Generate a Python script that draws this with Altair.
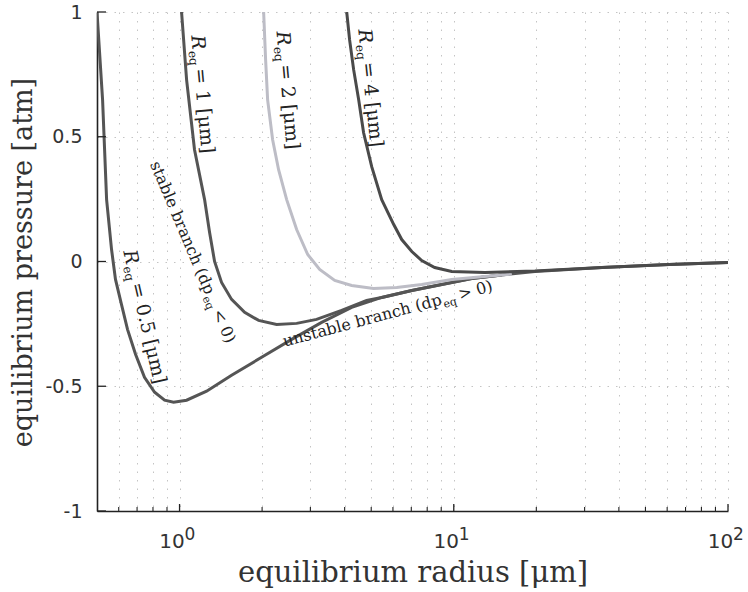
import altair as alt
import pandas as pd

# ---------------- data ----------------
# curve R_eq = 0.5 um (stable branch + unstable branch to large radius)
r_05 = [0.5, 0.524, 0.542, 0.565, 0.584, 0.614, 0.646, 0.691, 0.745, 0.811, 0.882,
        0.951, 1.061, 1.255, 1.548, 1.992, 2.564, 3.298, 4.243, 5.46, 7.03, 9.04,
        11.63, 14.97, 19.76, 34.7, 60.9, 100]
p_05 = [1.0, 0.648, 0.248, 0.048, -0.072, -0.172, -0.272, -0.372, -0.464, -0.524, -0.556,
        -0.564, -0.556, -0.52, -0.456, -0.384, -0.312, -0.244, -0.184, -0.144, -0.116, -0.092,
        -0.068, -0.054, -0.04, -0.024, -0.012, -0.004]

# curve R_eq = 1 um
r_1 = [1.017, 1.061, 1.134, 1.234, 1.287, 1.342, 1.423, 1.548, 1.727, 1.942, 2.26,
       2.673, 3.16, 3.90, 4.81, 5.46, 7.03, 9.04, 11.63, 14.97]
p_1 = [1.0, 0.728, 0.448, 0.248, 0.116, 0.0, -0.084, -0.152, -0.204, -0.236, -0.252,
       -0.248, -0.232, -0.196, -0.156, -0.144, -0.116, -0.092, -0.068, -0.054]

# curve R_eq = 2 um (light)
r_2 = [2.026, 2.06, 2.095, 2.185, 2.297, 2.458, 2.673, 2.933, 3.243, 3.68, 4.243,
       5.10, 6.19, 7.64, 9.83, 12.97, 16.28]
p_2 = [1.0, 0.808, 0.648, 0.488, 0.368, 0.248, 0.128, 0.028, -0.032, -0.076, -0.096,
       -0.108, -0.104, -0.092, -0.072, -0.06, -0.05]

# curve R_eq = 4 um
r_4 = [4.07, 4.17, 4.315, 4.50, 4.69, 5.02, 5.46, 6.04, 6.46, 7.03, 7.64, 8.52,
       9.83, 12.97, 19.76, 34.7, 60.9, 100]
p_4 = [1.0, 0.888, 0.768, 0.648, 0.516, 0.38, 0.248, 0.148, 0.088, 0.04, 0.004, -0.024,
       -0.04, -0.044, -0.038, -0.024, -0.012, -0.004]

# axis ticks / grid
x_major = [1, 10, 100]
x_exp = ["0", "1", "2"]
x_minor = [0.6, 0.7, 0.8, 0.9, 2, 3, 4, 5, 6, 7, 8, 9, 20, 30, 40, 50, 60, 70, 80, 90]
y_vals = [-1, -0.5, 0, 0.5, 1]

# annotations (anchor = end of the "R" / start of subscript)
NB = "\u00a0"
rlab_R = [0.641, 1.115, 2.28, 4.54]
rlab_p = [-0.016, 0.848, 0.864, 0.872]
rlab_angle = [77, 85, 85, 84]
rlab_rest = [NB + "= 0.5 [μm]", NB + "= 1 [μm]", NB + "= 2 [μm]", NB + "= 4 [μm]"]

blab_R = [1.244, 9.10]
blab_p = [-0.136, -0.172]
blab_angle = [67, 345]
blab_pre = ["stable branch (dp", "unstable branch (dp"]
blab_post = [NB + "< 0)", NB + "> 0)"]

# ---------------- build tables ----------------
rows = []
for name, rs, ps in [("0.5", r_05, p_05), ("1", r_1, p_1), ("2", r_2, p_2), ("4", r_4, p_4)]:
    for i, (r, p) in enumerate(zip(rs, ps)):
        rows.append({"curve": name, "R": r, "p": p, "i": i})
curves = pd.DataFrame(rows)

rlab = pd.DataFrame({"R": rlab_R, "p": rlab_p, "angle": rlab_angle, "rest": rlab_rest})
blab = pd.DataFrame({"R": blab_R, "p": blab_p, "angle": blab_angle,
                     "pre": blab_pre, "post": blab_post})
xmaj = pd.DataFrame({"R": x_major, "e": x_exp})
xmin = pd.DataFrame({"R": x_minor})
yt = pd.DataFrame({"p": y_vals})

W, H = 631, 499
SERIF = "DejaVu Serif"
SANS = "DejaVu Sans"

xscale = alt.Scale(type="log", domain=[0.5, 100], nice=False)
yscale = alt.Scale(domain=[-1, 1], nice=False)

xaxis = alt.Axis(
    values=x_minor + x_major,
    labelExpr="(datum.value == 1 || datum.value == 10 || datum.value == 100) ? '10' : ''",
    labelOverlap=False, labelFlush=False, labelOffset=-8,
    grid=True, gridDash=[1.5, 7], gridColor="#c4c4c4", gridWidth=1,
    ticks=False, domainColor="#222", domainWidth=1.6,
    labelFont=SANS, labelFontSize=20, labelColor="#333", labelPadding=20,
    title="equilibrium radius [μm]", titleFont=SERIF, titleFontSize=29,
    titleFontWeight="normal", titleColor="#333", titleBaseline="alphabetic", titleY=70,
)
yaxis = alt.Axis(
    values=y_vals, labelExpr="toString(datum.value)",
    grid=True, gridDash=[1.5, 7], gridColor="#c4c4c4", gridWidth=1,
    ticks=False, domainColor="#222", domainWidth=1.6,
    labelFont=SANS, labelFontSize=19, labelColor="#333", labelPadding=15,
    title="equilibrium pressure [atm]", titleFont=SERIF, titleFontSize=27,
    titleFontWeight="normal", titleColor="#333", titleAngle=270,
    titleBaseline="alphabetic", titleX=-66, titleY=250,
)

X = alt.X("R:Q", scale=xscale, axis=xaxis)
Y = alt.Y("p:Q", scale=yscale, axis=yaxis)

lines = alt.Chart(curves).mark_line(strokeWidth=3, clip=True).encode(
    x=X, y=Y,
    color=alt.Color("curve:N", legend=None,
                    scale=alt.Scale(domain=["0.5", "1", "2", "4"],
                                    range=["#555555", "#555555", "#bdbdc6", "#4a4a4a"])),
    detail="curve:N", order="i:Q",
)

ticks_major = alt.Chart(xmaj).mark_rule(color="#222", strokeWidth=1.3).encode(
    x=X, y=alt.value(H), y2=alt.value(H - 7))
ticks_minor = alt.Chart(xmin).mark_rule(color="#222", strokeWidth=1.1).encode(
    x=X, y=alt.value(H), y2=alt.value(H - 4))
ticks_y = alt.Chart(yt).mark_rule(color="#222", strokeWidth=1.3).encode(
    y=Y, x=alt.value(0), x2=alt.value(9))
exponents = alt.Chart(xmaj).mark_text(align="left", baseline="alphabetic", dx=5,
                                      font=SANS, fontSize=17, color="#333").encode(
    x=X, y=alt.value(H + 29), text="e:N")

ANG = alt.Angle("angle:Q", scale=None)
TXT = "#222"

r_main = alt.Chart(rlab).mark_text(text="R", align="right", baseline="alphabetic",
                                   font=SERIF, fontStyle="italic", fontSize=19, color=TXT
                                   ).encode(x=X, y=Y, angle=ANG)
r_sub = alt.Chart(rlab).mark_text(text="eq", align="left", baseline="alphabetic", dx=1, dy=4,
                                  font=SERIF, fontSize=12, color=TXT
                                  ).encode(x=X, y=Y, angle=ANG)
r_rest = alt.Chart(rlab).mark_text(align="left", baseline="alphabetic", dx=19,
                                   font=SERIF, fontSize=19, color=TXT
                                   ).encode(x=X, y=Y, angle=ANG, text="rest:N")

b_pre = alt.Chart(blab).mark_text(align="right", baseline="alphabetic",
                                  font=SERIF, fontSize=16, color=TXT
                                  ).encode(x=X, y=Y, angle=ANG, text="pre:N")
b_sub = alt.Chart(blab).mark_text(text="eq", align="left", baseline="alphabetic", dx=1, dy=4,
                                  font=SERIF, fontSize=11, color=TXT
                                  ).encode(x=X, y=Y, angle=ANG)
b_post = alt.Chart(blab).mark_text(align="left", baseline="alphabetic", dx=18,
                                   font=SERIF, fontSize=16, color=TXT
                                   ).encode(x=X, y=Y, angle=ANG, text="post:N")

chart = alt.layer(
    lines, ticks_major, ticks_minor, ticks_y, exponents,
    r_main, r_sub, r_rest, b_pre, b_sub, b_post,
).properties(
    width=W, height=H,
    padding={"left": 97, "top": 12, "right": 20, "bottom": 81},
    autosize=alt.AutoSizeParams(type="none"),
    background="white",
).configure_view(stroke=None)

chart.save("out.html", embed_options={"renderer": "svg", "actions": False})
